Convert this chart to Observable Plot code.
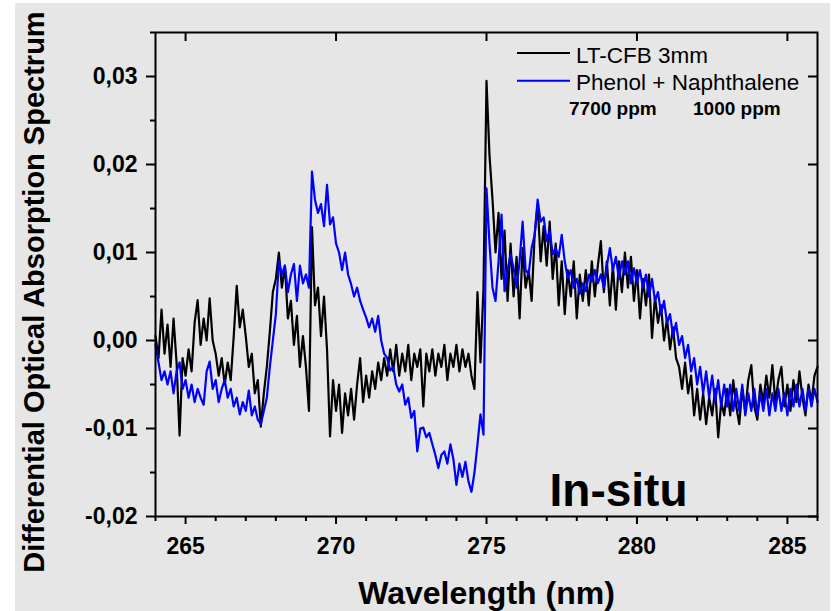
<!DOCTYPE html>
<html>
<head>
<meta charset="utf-8">
<script src="https://cdn.jsdelivr.net/npm/d3@7"></script>
<script src="https://cdn.jsdelivr.net/npm/@observablehq/plot@0.6"></script>
<style>
  html, body { margin: 0; padding: 0; background: #ffffff; }
  #chart { position: absolute; left: 15px; top: 3px; }
</style>
</head>
<body>
<div id="chart"></div>
<script>
// Sampling grid of the spectra (nm)
const wlStart = 264.0;
const wlStep = 0.1;

// Differential optical absorption (x 1e-3), LT-CFB 3mm, 264.0 .. 286.0 nm
const ltcfb = [
  0.5, -2, 3.5, -1.5, 1.8, -3, 2.5, -2.5, -10.8, -2,
  -4, -1, -3.5, 2, 4.6, -0.5, 2.5, 0, 4.8, 0,
  -1.5, -4, -2, -5, -2.5, -4.5, 0.5, 6.2, 1.5, 3.5,
  0.5, -3, -1.5, -6, -4.5, -9.8, -6, -3, 1, 5.5,
  7, 10, 6, 8.5, 2.5, 4.5, -0.5, 2.8, -3, 0.5,
  -3, -8, 12.9, 4, 6, 0.5, 5, -1, -10.9, -4.5,
  -8, -5, -10.5, -6, -8.5, -5.5, -9, -5, -2, -7,
  -4, -6.5, -3.5, -5.5, -2.5, -4.5, -2, -4, -1, -3.5,
  -0.5, -4, -1.5, -3.5, -0.5, -4.5, -1.5, -3, -1, -7.5,
  -1.5, -3.5, -1, -4, -1.5, -3, -0.5, -4.5, -1.5, -3,
  -0.5, -3.5, -1, -3, -1.5, -4, -5.5, 5.5, -2.5, 6,
  29.5, 21, 16, 10, 14.5, 7, 12.5, 4.5, 11, 5,
  9.5, 2.5, 10.5, 6, 8, 4.5, 12, 15.5, 9, 13,
  8.5, 13.5, 7, 11, 4, 9, 3, 8, 5, 9,
  2.5, 7.5, 4.5, 8, 4, 9, 5, 8.5, 11.3, 5.5,
  9, 4, 8.5, 3.5, 9, 5.5, 10, 6, 9.5, 4.5,
  8, 2.5, 7, 4, 7.5, 0.3, 5, 2, 4, 0,
  2.5, -1, 1.5, -2, -3, -5.5, -2.5, -6, -4, -8.5,
  -5.5, -9, -6, -9.5, -6.5, -8.5, -5.5, -11, -7, -8.5,
  -5.5, -8.5, -4.5, -7.5, -9.5, -5.5, -8, -4.5, -2.8, -7.5,
  -9, -5, -7, -4, -6.5, -2.8, -7, -4.5, -3, -7.5,
  -5, -8, -4.5, -7, -3.5, -6.5, -8.5, -5, -7, -4,
  -3
];

// Phenol 7700 ppm + Naphthalene 1000 ppm (x 1e-3), 264.0 .. 286.0 nm
const phenolNaph = [
  -0.5, -2.5, -4.5, -3.5, -5, -3.5, -6, -3.5, -2.5, -5.5,
  -4.5, -6.5, -5, -7, -5.5, -6.5, -7.3, -3.5, -2.4, -5.5,
  -4.5, -7, -5.5, -4.5, -6.5, -5.5, -7.5, -6.5, -8.4, -7,
  -8, -5.7, -8.5, -7.5, -9, -9.5, -8, -6.5, -3, 0,
  3, 9, 7.5, 8.5, 5.5, 7.5, 8.7, 4.5, 8.5, 6.5,
  7.5, 6, 19.2, 16, 14.5, 15.5, 13, 17.7, 13.2, 14,
  11, 10, 8, 10, 7.5, 6.4, 5, 6, 4.5, 3.5,
  2.6, 1.5, 2.5, 1, 2.8, 0, -1.5, -2, -3.4, -3,
  -5, -5.8, -5, -7.3, -6.5, -8.8, -8, -12.6, -10, -9.9,
  -11, -10.5, -11.8, -13, -14.5, -13, -12.6, -14, -11.8, -13.5,
  -16.4, -14, -15.5, -13.8, -16, -17.2, -15, -11.8, -8.4, -10.7,
  17.3, 11, 6, 4.5, 9, 14.3, 5.6, 8, 9.8, 8.2,
  6, 9, 13.5, 8, 7.5, 10.5, 12, 16, 13.5, 14,
  11.3, 12.5, 9.8, 10.5, 9.5, 12, 9, 7.1, 8, 6,
  7, 5.3, 6.5, 5.6, 7.5, 6.7, 8, 6.5, 7.5, 6,
  8.5, 10.5, 8, 9.5, 7, 9, 7.5, 9, 6.5, 8.2,
  6.5, 8, 6, 7.5, 5, 7, 4.5, 5.5, 3, 4.5,
  2, 3, 0.5, 2, -0.5, 0.5, -2, -0.5, -3.5, -2,
  -5, -3, -6, -3.5, -6.5, -4, -7, -4.5, -7.5, -5,
  -7.5, -5, -8, -5.5, -8, -5, -8.5, -6, -8, -5.5,
  -8.5, -6, -8, -5.5, -8.5, -6, -8, -5.5, -8, -6,
  -8.5, -5.5, -7.5, -5, -7.5, -5.5, -8, -5.5, -7.5, -5.5,
  -7
];

const seriesNames = ["LT-CFB 3mm", "Phenol + Naphthalene"];
const seriesColors = ["#000000", "#0000ff"];
const concLabels = ["7700 ppm", "1000 ppm"];
const xMajor = [265, 270, 275, 280, 285];
const xMinor = [264, 266, 267, 268, 269, 271, 272, 273, 274, 276, 277, 278, 279, 281, 282, 283, 284, 286];
const yMajor = [-20, -10, 0, 10, 20, 30];
const yMinor = [-15, -5, 5, 15, 25, 35];
const xTitle = "Wavelength (nm)";
const yTitle = "Differential Optical Absorption Spectrum";
const annotation = "In-situ";

const toRows = (vals) => vals.map((v, i) => ({wl: +(wlStart + wlStep * i).toFixed(2), v}));
const blackRows = toRows(ltcfb);
const blueRows = toRows(phenolNaph);

const fmt = d => (d / 1000).toFixed(2).replace(".", ",");

const W = 815, H = 608;
const mL = 140, mR = 13, mT = 29, mB = 95;
const frameW = W - mL - mR, frameH = H - mT - mB;

const svg = Plot.plot({
  width: W,
  height: H,
  marginLeft: mL,
  marginRight: mR,
  marginTop: mT,
  marginBottom: mB,
  style: {background: "#e6e6e6", fontFamily: "'Liberation Sans', Arial, sans-serif", color: "black"},
  x: {domain: [264, 286]},
  y: {domain: [-20, 35]},
  marks: [
    Plot.line(blackRows, {x: "wl", y: "v", stroke: seriesColors[0], strokeWidth: 2.2}),
    Plot.line(blueRows, {x: "wl", y: "v", stroke: seriesColors[1], strokeWidth: 2.2}),
    Plot.frame({stroke: "black", strokeWidth: 2}),
    Plot.axisX({ticks: xMajor, anchor: "bottom", tickSize: 8, tickPadding: 13, strokeWidth: 2,
      fontSize: 23, fontWeight: "bold", tickFormat: d => String(d), label: null}),
    Plot.axisX({ticks: xMinor, anchor: "bottom", tickSize: 5, strokeWidth: 2, tickFormat: () => "", label: null}),
    Plot.tickX(xMajor, {x: d => d, insetBottom: frameH - 9, stroke: "black", strokeWidth: 2}),
    Plot.axisY({ticks: yMajor, anchor: "left", tickSize: 9, tickPadding: 9, strokeWidth: 2,
      fontSize: 23, fontWeight: "bold", tickFormat: fmt, label: null}),
    Plot.axisY({ticks: yMinor, anchor: "left", tickSize: 5, strokeWidth: 2, tickFormat: () => "", label: null}),
    Plot.tickY(yMajor, {y: d => d, insetLeft: frameW - 9, stroke: "black", strokeWidth: 2}),
    Plot.text([xTitle], {text: d => d, frameAnchor: "bottom", dy: 87, lineAnchor: "bottom",
      fontSize: 32, fontWeight: "bold", fill: "black"}),
    Plot.text([yTitle], {text: d => d, frameAnchor: "left", rotate: -90, dx: -112, dy: 17.5,
      lineAnchor: "bottom", textAnchor: "middle", fontSize: 29, fontWeight: "bold", fill: "black"}),
    Plot.text([annotation], {text: d => d, frameAnchor: "bottom-left", dx: 394, dy: -11,
      lineAnchor: "bottom", textAnchor: "start", fontSize: 46, fontWeight: "bold", fill: "black"})
  ]
});

// Legend
const g = d3.select(svg).append("g")
  .attr("font-family", "'Liberation Sans', Arial, sans-serif")
  .attr("text-anchor", "start");
const legendY = [50, 77.7];
seriesNames.forEach((name, i) => {
  g.append("line").attr("x1", 502).attr("x2", 555).attr("y1", legendY[i]).attr("y2", legendY[i])
    .attr("stroke", seriesColors[i]).attr("stroke-width", 2);
  g.append("text").attr("x", 561).attr("y", legendY[i] + 9.5).attr("font-size", 22.5)
    .attr("fill", "black").text(name);
});
const concX = [554, 678];
concLabels.forEach((t, i) => {
  g.append("text").attr("x", concX[i]).attr("y", 112).attr("font-size", 19).attr("font-weight", "bold")
    .attr("fill", "black").text(t);
});

document.getElementById("chart").appendChild(svg);
</script>
</body>
</html>
